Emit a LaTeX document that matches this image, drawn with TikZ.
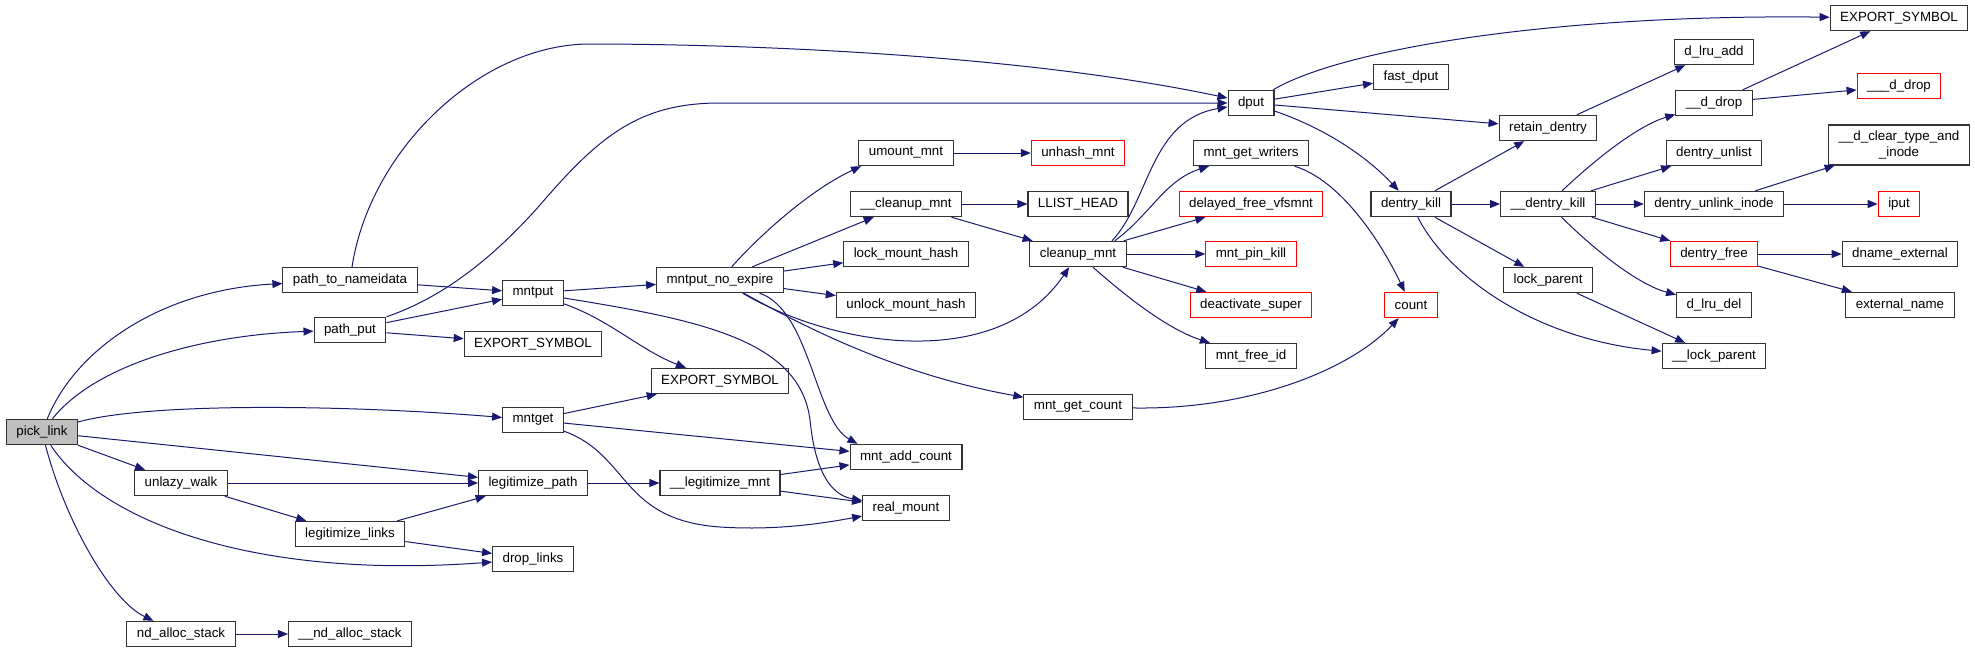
\documentclass[tikz,border=0pt]{standalone}
\usepackage{fontspec}
\setmainfont{Liberation Sans}
\usetikzlibrary{arrows.meta}
\definecolor{edgeblue}{HTML}{191970}
\definecolor{curgray}{HTML}{BFBFBF}

\begin{document}
\begin{tikzpicture}[x=0.75pt,y=-0.75pt,
  fn/.style={draw=black!80,fill=white,line width=0.8pt,font=\fontsize{10}{11.5}\selectfont,
    inner xsep=7.5pt,inner ysep=0pt,minimum height=19pt},
  red fn/.style={fn,draw=red},
  cur fn/.style={fn,fill=curgray},
  call/.style={edgeblue,line width=0.75pt,-{Triangle[length=7.5pt,width=6pt]}}]
  \useasboundingbox (0,0) rectangle (1975,653);

  \node[cur fn] (picklink) at (42,432) {pick\_link};
  \node[fn] (pathtonameidata) at (350,280) {path\_to\_nameidata};
  \node[fn] (pathput) at (350,330) {path\_put};
  \node[fn] (unlazywalk) at (181,483) {unlazy\_walk};
  \node[fn] (legitlinks) at (350,534) {legitimize\_links};
  \node[fn] (ndalloc) at (181,634) {nd\_alloc\_stack};
  \node[fn] (ndallocint) at (350,634) {\_\_nd\_alloc\_stack};
  \node[fn] (mntput) at (533,293) {mntput};
  \node[fn] (exportb) at (533,344) {EXPORT\_SYMBOL};
  \node[fn] (mntget) at (533,420) {mntget};
  \node[fn] (legitpath) at (533,483) {legitimize\_path};
  \node[fn] (droplinks) at (533,559) {drop\_links};
  \node[fn] (mntputnoexp) at (720,280) {mntput\_no\_expire};
  \node[fn] (exportc) at (720,381) {EXPORT\_SYMBOL};
  \node[fn] (legitmnt) at (720,483) {\_\_legitimize\_mnt};
  \node[fn] (umountmnt) at (906,153) {umount\_mnt};
  \node[fn] (cleanupint) at (906,204) {\_\_cleanup\_mnt};
  \node[fn] (lockmh) at (906,254) {lock\_mount\_hash};
  \node[fn] (unlockmh) at (906,305) {unlock\_mount\_hash};
  \node[fn] (mntaddcount) at (906,457) {mnt\_add\_count};
  \node[fn] (realmount) at (906,508) {real\_mount};
  \node[red fn] (unhashmnt) at (1078,153) {unhash\_mnt};
  \node[fn] (llisthead) at (1078,204) {LLIST\_HEAD};
  \node[fn] (cleanupmnt) at (1078,254) {cleanup\_mnt};
  \node[fn] (mntgetcount) at (1078,407) {mnt\_get\_count};
  \node[fn] (dput) at (1251,103) {dput};
  \node[fn] (mntgetwriters) at (1251,153) {mnt\_get\_writers};
  \node[red fn] (delayedfree) at (1251,204) {delayed\_free\_vfsmnt};
  \node[red fn] (mntpinkill) at (1251,254) {mnt\_pin\_kill};
  \node[red fn] (deactsuper) at (1251,305) {deactivate\_super};
  \node[fn] (mntfreeid) at (1251,356) {mnt\_free\_id};
  \node[fn] (fastdput) at (1411,77) {fast\_dput};
  \node[fn] (dentrykill) at (1411,204) {dentry\_kill};
  \node[red fn] (count) at (1411,305) {count};
  \node[fn] (retaindentry) at (1548,128) {retain\_dentry};
  \node[fn] (dentrykillint) at (1548,204) {\_\_dentry\_kill};
  \node[fn] (lockparent) at (1548,280) {lock\_parent};
  \node[fn] (dlruadd) at (1714,52) {d\_lru\_add};
  \node[fn] (ddrop) at (1714,103) {\_\_d\_drop};
  \node[fn] (dentryunlist) at (1714,153) {dentry\_unlist};
  \node[fn] (unlinkinode) at (1714,204) {dentry\_unlink\_inode};
  \node[red fn] (dentryfree) at (1714,254) {dentry\_free};
  \node[fn] (dlrudel) at (1714,305) {d\_lru\_del};
  \node[fn] (lockparentint) at (1714,356) {\_\_lock\_parent};
  \node[fn] (exporta) at (1899,18) {EXPORT\_SYMBOL};
  \node[red fn] (ddropint) at (1899,86) {\_\_\_d\_drop};
  \node[fn,align=center,minimum height=30pt] (dcleartype) at (1899,145) {\_\_d\_clear\_type\_and\\\_inode};
  \node[red fn] (iput) at (1899,204) {iput};
  \node[fn] (dnameext) at (1900,254) {dname\_external};
  \node[fn] (extname) at (1900,305) {external\_name};

  \foreach \a/\b in {picklink/unlazywalk, picklink/legitpath, unlazywalk/legitpath,
      unlazywalk/legitlinks, legitlinks/legitpath, legitlinks/droplinks, ndalloc/ndallocint,
      pathtonameidata/mntput, pathput/mntput, pathput/exportb, mntput/mntputnoexp,
      mntget/exportc, mntget/mntaddcount, legitpath/legitmnt, legitmnt/mntaddcount,
      legitmnt/realmount, mntputnoexp/cleanupint, mntputnoexp/lockmh, mntputnoexp/unlockmh,
      umountmnt/unhashmnt, cleanupint/llisthead, cleanupint/cleanupmnt, cleanupmnt/delayedfree,
      cleanupmnt/mntpinkill, cleanupmnt/deactsuper, dput/fastdput, dput/retaindentry,
      dentrykill/retaindentry, dentrykill/dentrykillint, dentrykill/lockparent,
      retaindentry/dlruadd, lockparent/lockparentint, dentrykillint/dentryunlist,
      dentrykillint/unlinkinode, dentrykillint/dentryfree, ddrop/exporta, ddrop/ddropint,
      unlinkinode/dcleartype, unlinkinode/iput, dentryfree/dnameext, dentryfree/extname}
    \draw[call] (\a) -- (\b);

  \draw[call] (picklink) .. controls (75,350) and (160,290) .. (pathtonameidata);
  \draw[call] (picklink) .. controls (95,365) and (200,335) .. (pathput);
  \draw[call] (picklink) .. controls (150,402) and (350,405) .. (mntget);
  \draw[call] (picklink) .. controls (100,520) and (250,580) .. (droplinks);
  \draw[call] (picklink) .. controls (65,520) and (110,600) .. (ndalloc);
  \draw[call] (pathtonameidata) .. controls (370,150) and (480,44) .. (590,44)
    .. controls (700,44) and (1000,50) .. (dput);
  \draw[call] (pathput.north east) .. controls (450,295) and (500,250) .. (540,205)
    .. controls (600,135) and (640,103) .. (720,103) -- (dput);
  \draw[call] (mntput) .. controls (610,320) and (640,350) .. (exportc);
  \draw[call] (mntput) .. controls (700,320) and (800,340) .. (810,420)
    .. controls (815,470) and (830,495) .. (realmount);
  \draw[call] (mntget) .. controls (630,455) and (620,520) .. (720,527)
    .. controls (780,531) and (830,522) .. (realmount);
  \draw[call] (mntputnoexp) .. controls (760,235) and (810,190) .. ([xshift=2pt]umountmnt.south west);
  \draw[call] (mntputnoexp) .. controls (840,350) and (1000,370) .. (cleanupmnt);
  \draw[call] (mntputnoexp) .. controls (810,310) and (815,420) .. ([xshift=6pt]mntaddcount.north west);
  \draw[call] (mntputnoexp) .. controls (810,330) and (900,375) .. (mntgetcount);
  \draw[call] ([xshift=-11pt]cleanupmnt.north east) .. controls (1150,200) and (1150,120) .. (dput);
  \draw[call] ([xshift=-9pt]cleanupmnt.north east) .. controls (1150,215) and (1165,180) .. (mntgetwriters);
  \draw[call] (cleanupmnt) .. controls (1130,300) and (1170,330) .. (mntfreeid);
  \draw[call] (mntgetwriters) .. controls (1340,180) and (1380,240) .. (count);
  \draw[call] (mntgetcount) .. controls (1250,410) and (1350,370) .. (count);
  \draw[call] (dput) .. controls (1340,50) and (1550,14) .. (exporta);
  \draw[call] (dput) .. controls (1330,130) and (1370,160) .. (dentrykill);
  \draw[call] (dentrykill) .. controls (1450,280) and (1540,340) .. (lockparentint);
  \draw[call] (dentrykillint) .. controls (1600,155) and (1640,125) .. (ddrop);
  \draw[call] (dentrykillint) .. controls (1600,255) and (1640,285) .. (dlrudel);
\end{tikzpicture}
\end{document}
